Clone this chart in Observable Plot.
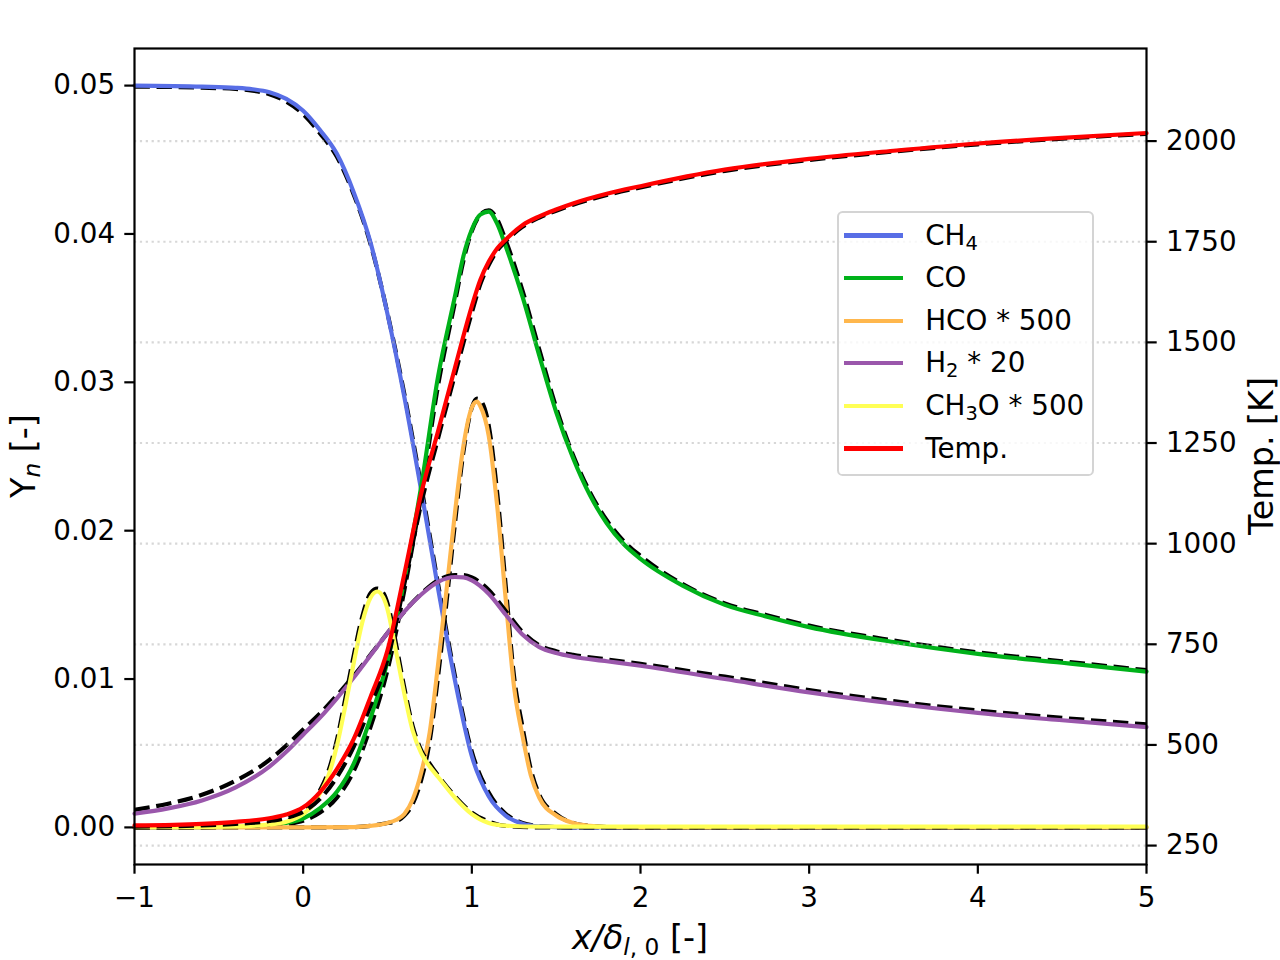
<!DOCTYPE html>
<html>
<head>
<meta charset="utf-8">
<script src="https://cdn.jsdelivr.net/npm/d3@7"></script>
<script src="https://cdn.jsdelivr.net/npm/@observablehq/plot@0.6"></script>
<style>
  body { margin: 0; background: #fff; }
  #wrap { position: relative; width: 1280px; height: 960px; background: #fff; font-family: "DejaVu Sans"; }
  #wrap > svg { position: absolute; left: 0; top: 0; }
  #legend { position: absolute; left: 837px; top: 211px; width: 257px; height: 265px; box-sizing: border-box;
            border: 2.5px solid rgba(204,204,204,0.85); border-radius: 5.6px; background: rgba(255,255,255,0.8);
            font-family: "DejaVu Sans"; font-size: 27.78px; color: #000; }
  #legend .row { position: absolute; left: 0; width: 100%; height: 40px; }
  #legend .sw { position: absolute; left: 4.8px; top: 17.9px; width: 59px; height: 4.17px; }
  #legend .lab { position: absolute; left: 86.2px; top: 0; line-height: 40px; white-space: nowrap; }
  #legend sub { font-size: 70%; vertical-align: -4.5px; line-height: 0; }
</style>
</head>
<body>
<div id="wrap"></div>
<script>
// ---------- tick labels ----------
const xTicks = [-1, 0, 1, 2, 3, 4, 5];
const yTicks = [0, 0.01, 0.02, 0.03, 0.04, 0.05];
const tTicks = [250, 500, 750, 1000, 1250, 1500, 1750, 2000];

// ---------- CH4 ----------
const ch4X   = [-1, -0.6, -0.4, -0.3, -0.2, -0.1, 0, 0.1, 0.2, 0.3, 0.4, 0.5, 0.6, 0.7, 0.8, 0.9, 1.0, 1.1, 1.2, 1.3, 1.4, 1.6, 2, 3, 4, 5];
const ch4Sim = [0.05000, 0.04993, 0.04985, 0.04975, 0.04955, 0.04910, 0.04830, 0.04700, 0.04540, 0.04280, 0.03940, 0.03460, 0.02900, 0.02270, 0.01610, 0.00990, 0.00480, 0.00210, 0.00080, 0.00025, 0.00007, 0, 0, 0, 0, 0];
const ch4Ref = [0.04993, 0.04986, 0.04977, 0.04966, 0.04942, 0.04892, 0.04808, 0.04678, 0.04520, 0.04265, 0.03930, 0.03465, 0.02920, 0.02300, 0.01640, 0.01020, 0.00510, 0.00235, 0.00092, 0.00030, 0.00009, 0, 0, 0, 0, 0];

// ---------- CO ----------
const coX   = [-1, -0.6, -0.4, -0.2, -0.1, 0, 0.1, 0.2, 0.3, 0.4, 0.5, 0.6, 0.7, 0.8, 0.9, 0.95, 1.0, 1.05, 1.1, 1.15, 1.2, 1.3, 1.4, 1.5, 1.6, 1.7, 1.8, 1.9, 2.0, 2.25, 2.5, 2.75, 3.0, 3.5, 4.0, 4.5, 5.0];
const coSim = [0, 0.00001, 0.00003, 0.00014, 0.0003, 0.0006, 0.0013, 0.0024, 0.0043, 0.0074, 0.0112, 0.0167, 0.0230, 0.0304, 0.0358, 0.0385, 0.0403, 0.0413, 0.0415, 0.0407, 0.0392, 0.0358, 0.0318, 0.0280, 0.0249, 0.0224, 0.0205, 0.0191, 0.0181, 0.0163, 0.0150, 0.0142, 0.0135, 0.0125, 0.0117, 0.0111, 0.0105];
const coRef = [0, 0.00001, 0.00002, 0.0001, 0.00022, 0.00045, 0.0010, 0.0020, 0.0038, 0.0068, 0.0106, 0.0160, 0.0224, 0.0298, 0.0354, 0.0382, 0.0402, 0.0413, 0.0416, 0.0410, 0.0396, 0.0362, 0.0322, 0.0283, 0.0251, 0.0226, 0.0207, 0.0193, 0.0183, 0.0164, 0.0151, 0.0143, 0.0136, 0.0126, 0.0118, 0.0112, 0.0106];

// ---------- HCO * 500 ----------
const hcoX   = [-1, 0, 0.3, 0.4, 0.5, 0.55, 0.6, 0.65, 0.7, 0.75, 0.8, 0.85, 0.9, 0.95, 1.0, 1.03, 1.05, 1.1, 1.15, 1.2, 1.25, 1.3, 1.35, 1.4, 1.5, 1.6, 1.7, 1.8, 2.0, 5.0];
const hcoSim = [0, 0, 0.00002, 0.0001, 0.0003, 0.0005, 0.0009, 0.0019, 0.0037, 0.0064, 0.0110, 0.0160, 0.0212, 0.0257, 0.0283, 0.0287, 0.0284, 0.0264, 0.0217, 0.0155, 0.0095, 0.0062, 0.0035, 0.0020, 0.0008, 0.0003, 0.0001, 0.00003, 0, 0];
const hcoRef = [0, 0, 0.00002, 0.0001, 0.0003, 0.0004, 0.0008, 0.0016, 0.0032, 0.0058, 0.0102, 0.0152, 0.0205, 0.0253, 0.0283, 0.0289, 0.0288, 0.0271, 0.0226, 0.0164, 0.0102, 0.0068, 0.0039, 0.0022, 0.0009, 0.0003, 0.0001, 0.00003, 0, 0];

// ---------- H2 * 20 ----------
const h2X   = [-1, -0.8, -0.6, -0.4, -0.2, -0.1, 0, 0.1, 0.2, 0.3, 0.4, 0.5, 0.6, 0.7, 0.8, 0.9, 0.95, 1.0, 1.1, 1.2, 1.3, 1.4, 1.5, 1.6, 1.8, 2.0, 2.5, 3.0, 3.5, 4.0, 4.5, 5.0];
const h2Sim = [0.00092, 0.00128, 0.00182, 0.00270, 0.00410, 0.00510, 0.00625, 0.00740, 0.00870, 0.01010, 0.01160, 0.01310, 0.01455, 0.01570, 0.01655, 0.01688, 0.01685, 0.01665, 0.01575, 0.01435, 0.01300, 0.01215, 0.01175, 0.01150, 0.01120, 0.01090, 0.01000, 0.00910, 0.00835, 0.00772, 0.00722, 0.00676];
const h2Ref = [0.00118, 0.00160, 0.00220, 0.00315, 0.00455, 0.00552, 0.00660, 0.00768, 0.00890, 0.01022, 0.01165, 0.01310, 0.01455, 0.01575, 0.01665, 0.01700, 0.01700, 0.01685, 0.01600, 0.01460, 0.01318, 0.01228, 0.01188, 0.01163, 0.01132, 0.01102, 0.01016, 0.00926, 0.00851, 0.00788, 0.00738, 0.00694];

// ---------- CH3O * 500 ----------
const ch3oX   = [-1, -0.6, -0.4, -0.2, -0.1, 0, 0.05, 0.1, 0.15, 0.2, 0.25, 0.3, 0.35, 0.4, 0.44, 0.475, 0.5, 0.55, 0.6, 0.65, 0.7, 0.75, 0.8, 0.9, 1.0, 1.1, 1.2, 1.4, 5];
const ch3oSim = [0.00003, 0.00004, 0.00007, 0.0002, 0.00038, 0.0009, 0.0014, 0.0023, 0.0035, 0.0055, 0.0082, 0.0111, 0.0138, 0.0155, 0.0159, 0.0155, 0.0147, 0.0119, 0.0090, 0.0065, 0.0050, 0.0041, 0.0034, 0.0020, 0.0009, 0.0003, 0.00012, 0.00005, 0.00005];
const ch3oRef = [0, 0.00002, 0.00008, 0.00022, 0.00042, 0.0010, 0.0016, 0.0025, 0.0038, 0.0059, 0.0087, 0.0116, 0.0142, 0.0158, 0.0161, 0.0158, 0.0151, 0.0124, 0.0094, 0.0068, 0.0052, 0.0043, 0.0035, 0.0021, 0.0010, 0.0004, 0.0001, 0, 0];

// ---------- Temperature [K] ----------
const tempX   = [-1, -0.6, -0.4, -0.2, -0.1, 0, 0.1, 0.2, 0.3, 0.4, 0.5, 0.6, 0.7, 0.8, 0.9, 1.0, 1.05, 1.1, 1.15, 1.2, 1.3, 1.4, 1.5, 1.6, 1.8, 2.0, 2.5, 3.0, 3.5, 4.0, 4.5, 5.0];
const tempSim = [300, 304, 309, 318, 327, 345, 383, 440, 515, 620, 735, 925, 1125, 1280, 1437, 1590, 1655, 1700, 1733, 1755, 1791, 1813, 1830, 1845, 1869, 1888, 1929, 1956, 1976, 1994, 2008, 2020];
const tempRef = [297, 300, 304, 311, 319, 334, 366, 420, 496, 598, 713, 900, 1100, 1262, 1420, 1574, 1644, 1692, 1728, 1751, 1787, 1810, 1827, 1842, 1866, 1885, 1926, 1953, 1974, 1992, 2006, 2018];

const colors = ["#586EE6", "#00B21A", "#FFB74D", "#9A57AB", "#FFFF55", "#FF0000"];

// ---------- build ----------
const rows = (xs, sim, ref) => xs.map((x, i) => ({x, sim: sim[i], ref: ref[i]}));
const species = [
  {rows: rows(ch4X, ch4Sim, ch4Ref), color: colors[0]},
  {rows: rows(coX, coSim, coRef), color: colors[1]},
  {rows: rows(hcoX, hcoSim, hcoRef), color: colors[2]},
  {rows: rows(h2X, h2Sim, h2Ref), color: colors[3]},
  {rows: rows(ch3oX, ch3oSim, ch3oRef), color: colors[4]}
];
const tempRows = rows(tempX, tempSim, tempRef);

const LW = 4.17;
const dashed = {stroke: "black", strokeWidth: LW, strokeDasharray: "15.4,6.67", strokeLinecap: "butt", curve: "monotone-x"};
const dims = {width: 1280, height: 960, marginLeft: 134, marginRight: 134, marginTop: 48, marginBottom: 96};
const svgStyle = "font-family:'DejaVu Sans';font-size:27.78px;color:black;background:transparent;overflow:visible;position:absolute;left:0;top:0;max-width:none;";
const fmtX = d => d < 0 ? "\u2212" + Math.abs(d) : String(d);

const left = Plot.plot({
  ...dims,
  style: svgStyle,
  x: {domain: [-1, 5]},
  y: {domain: [-0.0025, 0.0525]},
  marks: [
    ...species.flatMap(s => [
      Plot.line(s.rows, {x: "x", y: "ref", ...dashed}),
      Plot.line(s.rows, {x: "x", y: "sim", stroke: s.color, strokeWidth: LW, curve: "monotone-x"})
    ]),
    Plot.axisX({ticks: xTicks, tickFormat: fmtX, tickSize: 9.7, tickPadding: 13.4, strokeWidth: 2.2, label: null}),
    Plot.axisY({ticks: yTicks, tickFormat: d => d.toFixed(2), tickSize: 9.7, tickPadding: 9.7, strokeWidth: 2.2, label: null})
  ]
});

const right = Plot.plot({
  ...dims,
  style: svgStyle,
  x: {domain: [-1, 5], axis: null},
  y: {domain: [203, 2230]},
  marks: [
    Plot.gridY({ticks: tTicks, stroke: "#b0b0b0", strokeOpacity: 0.5, strokeWidth: 2.2, strokeDasharray: "2.2,3.67"}),
    Plot.line(tempRows, {x: "x", y: "ref", ...dashed}),
    Plot.line(tempRows, {x: "x", y: "sim", stroke: colors[5], strokeWidth: LW, curve: "monotone-x"}),
    Plot.frame({stroke: "black", strokeWidth: 2.2}),
    Plot.axisY({anchor: "right", ticks: tTicks, tickFormat: d => String(d), tickSize: 9.7, tickPadding: 9.7, strokeWidth: 2.2, label: null})
  ]
});

const wrap = document.getElementById("wrap");
wrap.appendChild(left);
wrap.appendChild(right);

// ---------- axis titles ----------
const sv = d3.select(right);
const FS = 33.33, SUB = 23.3;
const yl = sv.append("text").attr("transform", "translate(35,456) rotate(-90)").attr("text-anchor", "middle")
  .attr("font-family", "DejaVu Sans").style("font-size", FS + "px").attr("fill", "black");
yl.append("tspan").text("Y");
yl.append("tspan").style("font-size", SUB + "px").attr("font-style", "italic").attr("dy", 5.4).text("n");
yl.append("tspan").attr("dy", -5.4).text(" [-]");

sv.append("text").attr("transform", "translate(1273,456) rotate(-90)").attr("text-anchor", "middle")
  .attr("font-family", "DejaVu Sans").style("font-size", FS + "px").attr("fill", "black").text("Temp. [K]");

const xl = sv.append("text").attr("transform", "translate(640,949)").attr("text-anchor", "middle")
  .attr("font-family", "DejaVu Sans").style("font-size", FS + "px").attr("fill", "black");
xl.append("tspan").attr("font-style", "italic").text("x/\u03B4");
xl.append("tspan").style("font-size", SUB + "px").attr("font-style", "italic").attr("dy", 6).text("l");
xl.append("tspan").style("font-size", SUB + "px").text(", 0");
xl.append("tspan").attr("dy", -6).text(" [-]");

// ---------- legend ----------
const legendLabels = ["CH<sub>4</sub>", "CO", "HCO * 500", "H<sub>2</sub> * 20", "CH<sub>3</sub>O * 500", "Temp."];
const lg = document.createElement("div");
lg.id = "legend";
legendLabels.forEach((lab, i) => {
  const r = document.createElement("div");
  r.className = "row";
  r.style.top = (22.5 + 42.6 * i - 20) + "px";
  r.innerHTML = `<div class="sw" style="background:${colors[i]}"></div><div class="lab">${lab}</div>`;
  lg.appendChild(r);
});
wrap.appendChild(lg);
</script>
</body>
</html>
